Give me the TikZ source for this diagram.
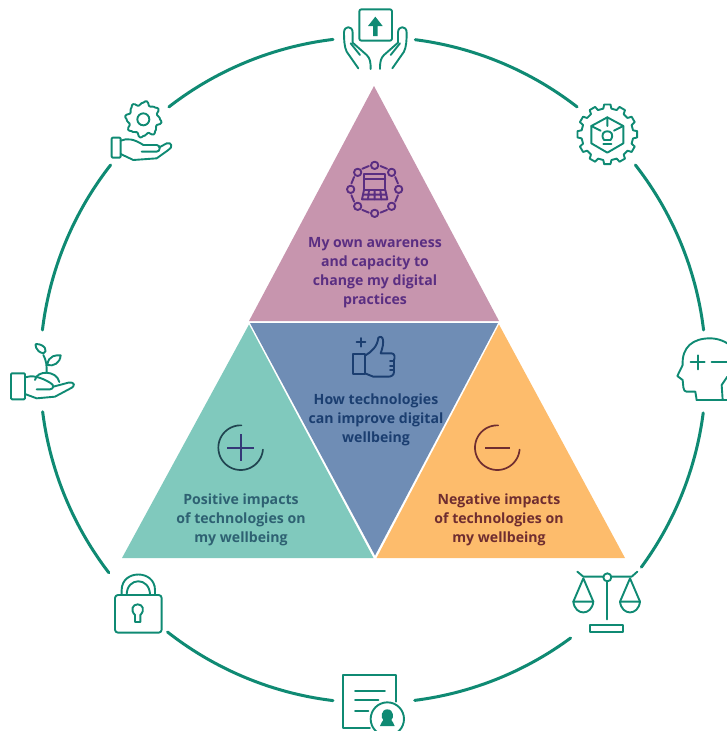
\documentclass[tikz,border=0pt]{standalone}
\usepackage{fontspec}
\setmainfont{Open Sans}
\definecolor{ringc}{HTML}{0F8A73}
\definecolor{pinkc}{HTML}{C795AE}
\definecolor{bluec}{HTML}{6F8DB5}
\definecolor{greenc}{HTML}{80C9BD}
\definecolor{orangec}{HTML}{FDBC6C}
\definecolor{purplet}{HTML}{5A2E82}
\definecolor{navyt}{HTML}{1B3E70}
\definecolor{greent}{HTML}{2E6172}
\definecolor{oranget}{HTML}{6F2D30}
\tikzset{
  ringline/.style={draw=ringc,line width=3pt,line cap=round},
  icon/.style={draw=ringc,line width=1.9pt,line cap=round,line join=round},
  label/.style={align=center,font=\bfseries\fontsize{14.1}{19}\selectfont,inner sep=0pt},
}
\newcommand{\ringarc}[2]{\draw[ringline] plot[domain=#1:#2,samples=40,smooth] ({373+333*cos(\x)},{370-333*sin(\x)});}
\begin{document}
\begin{tikzpicture}[x=1pt,y=-1pt]
\useasboundingbox (0,0) rectangle (726,731);
% triangles
\fill[pinkc]   (374,86) -- (499,321) -- (249,321) -- cycle;
\fill[bluec]   (250,323) -- (498,323) -- (375,555.5) -- cycle;
\fill[greenc]  (249,324.5) -- (373.5,558) -- (122,558) -- cycle;
\fill[orangec] (499,324.5) -- (625,558) -- (376.5,558) -- cycle;
% ring
\ringarc{82.7}{52.2}
\ringarc{38}{6.9}
\ringarc{-7.4}{-36.3}
\ringarc{-53.6}{-82.8}
\ringarc{-96.9}{-128.1}
\ringarc{-142.5}{-172.8}
\ringarc{173.1}{142}
\ringarc{127.8}{96.9}
% labels
\node[label,text=purplet] (own) at (375,272.5) {My own awareness\\and capacity to\\change my digital\\practices};
\node[label,text=navyt] (how) at (376,420) {How technologies\\can improve digital\\wellbeing};
\node[label,text=greent] (pos) at (241,520) {Positive impacts\\of technologies on\\my wellbeing};
\node[label,text=oranget] (neg) at (499,520) {Negative impacts\\of technologies on\\my wellbeing};
% top hands
\begin{scope}[shift={(330,0)},scale=1/3]
  \draw[icon,rounded corners=2pt] (88,28) rectangle (186,122);
  \fill[ringc] (136,50) -- (158,78) -- (143,78) -- (143,108) -- (129,108) -- (129,78) -- (114,78) -- cycle;
  \foreach \m/\o in {1/0,-1/272}{
  \begin{scope}[shift={(\o,0)},xscale=\m]
    \draw[icon] (85,205) -- (50,155) .. controls (43,140) and (42,120) .. (42,98) .. controls (42,76) and (68,76) .. (68,98) -- (68,128) -- (110,165) .. controls (120,175) and (122,185) .. (122,207);
    \draw[icon] (62,130) -- (90,165);
  \end{scope}}
\end{scope}
% gear with cube
\begin{scope}[shift={(330,0)},scale=1/3]
  \draw[icon] ({832+90*cos(-6)},{403+90*sin(-6)})
    \foreach \k in {0,...,11}{
      -- ({832+90*cos(30*\k-6)},{403+90*sin(30*\k-6)})
      -- ({832+90*cos(30*\k+6)},{403+90*sin(30*\k+6)})
      -- ({832+78*cos(30*\k+9)},{403+78*sin(30*\k+9)})
      -- ({832+78*cos(30*\k+21)},{403+78*sin(30*\k+21)})
    } -- cycle;
  \draw[icon] (832,352) -- (880,378) -- (880,430) -- (832,458) -- (784,430) -- (784,378) -- cycle;
  \draw[icon] (784,378) -- (812,392) (880,378) -- (852,392) (832,352) -- (832,378);
  \draw[icon] (822,420) .. controls (800,385) and (864,385) .. (842,420) -- cycle;
  \draw[icon] (820,432) -- (844,432);
\end{scope}
% head and scales
\begin{scope}[shift={(540,320)},scale=1/3]
  \draw[icon] (470,240) -- (466,215) -- (440,215) .. controls (428,215) and (430,195) .. (428,180) -- (412,168) -- (428,135) .. controls (425,80) and (460,55) .. (510,55) .. controls (535,55) and (559,65) .. (575,80);
  \draw[icon] (470,240) -- (562,240);
  \draw[icon] (562,170) -- (545,195) -- (548,240);
  \draw[icon] (452,127) -- (494,127) (473,106) -- (473,148);
  \draw[icon] (515,127) -- (562,127);
  \draw[icon] (112,755) -- (130,770) -- (190,770) (214,770) -- (275,770) -- (292,755);
  \draw[icon] (202,772) circle[radius=12];
  \draw[icon] (202,785) -- (202,898);
  \draw[icon] (150,916) rectangle (250,935);
  \foreach \cx in {130,270}{
    \draw[icon] (\cx-30,845) -- (\cx,775) -- (\cx+30,845);
    \draw[icon] (\cx-30,845) .. controls (\cx-25,888) and (\cx+25,888) .. (\cx+30,845) -- cycle;
  }
\end{scope}
% document and lock
\begin{scope}[shift={(90,560)},scale=1/3]
  \draw[icon] (840,503) -- (760,503) -- (760,345) -- (917,345) -- (917,425);
  \draw[icon] (795,392) -- (885,392) (795,420) -- (865,420) (795,452) -- (835,452);
  \draw[icon] (892,477) circle[radius=50];
  \fill[ringc] (892,448) .. controls (872,448) and (872,475) .. (880,480) .. controls (880,485) and (870,488) .. (870,498) -- (914,498) .. controls (914,488) and (904,485) .. (904,480) .. controls (912,475) and (912,448) .. (892,448) -- cycle;
  \draw[icon,rounded corners=3pt] (75,105) rectangle (215,218);
  \draw[icon] (95,105) -- (95,90) .. controls (95,28) and (195,28) .. (195,90) -- (195,105);
  \draw[icon] (110,105) .. controls (110,50) and (180,50) .. (180,105);
  \draw[icon] (135,186) -- (135,165) .. controls (120,150) and (128,133) .. (143,133) .. controls (158,133) and (166,150) .. (151,165) -- (151,186) -- cycle;
\end{scope}
% hands left
\begin{scope}[shift={(0,90)},scale=1/3]
  \draw[icon,rounded corners=1pt] (335,143) rectangle (362,203);
  \draw[icon] (362,152) .. controls (380,145) and (400,145) .. (430,165) -- (470,165) .. controls (482,165) and (482,185) .. (470,185) -- (425,185);
  \draw[icon] (478,172) -- (500,160) .. controls (515,155) and (520,172) .. (505,180) -- (470,205) -- (400,210) -- (362,192);
  \draw[icon] ({430+50*cos(0)},88) \foreach \k in {0,...,7}{
     .. controls ({430+58*cos(45*\k+8)},{88+58*sin(45*\k+8)}) and ({430+58*cos(45*\k+14)},{88+58*sin(45*\k+14)}) .. ({430+44*cos(45*\k+22.5)},{88+44*sin(45*\k+22.5)})
     .. controls ({430+40*cos(45*\k+28)},{88+40*sin(45*\k+28)}) and ({430+52*cos(45*\k+38)},{88+52*sin(45*\k+38)}) .. ({430+50*cos(45*\k+45)},{88+50*sin(45*\k+45)})
  } -- cycle;
  \draw[icon] (430,88) circle[radius=18];
  \draw[icon,rounded corners=1pt] (33,850) rectangle (75,928);
  \draw[icon] (75,862) .. controls (95,855) and (120,860) .. (150,878) .. controls (165,885) and (160,898) .. (150,898) -- (110,898);
  \draw[icon] (160,890) -- (205,878) .. controls (225,875) and (228,888) .. (210,896) -- (165,920) -- (110,925) -- (75,912);
  \draw[icon] (105,870) .. controls (110,840) and (170,840) .. (178,876);
  \draw[icon] (140,848) .. controls (140,825) and (140,815) .. (130,795);
  \draw[icon] (130,790) .. controls (105,785) and (105,760) .. (108,762) .. controls (135,762) and (145,785) .. (130,790) -- cycle;
  \draw[icon] (142,825) .. controls (145,795) and (170,795) .. (182,796) .. controls (180,820) and (160,830) .. (142,825) -- cycle;
\end{scope}
% pink icon
\begin{scope}[shift={(300,150)},scale=1/3]
  \foreach \k in {0,...,7}{
    \draw[icon,draw=purplet] ({224+72*cos(45*\k)},{118+72*sin(45*\k)}) circle[radius=11];
    \draw[icon,draw=purplet] ({224+72*cos(45*\k+14)},{118+72*sin(45*\k+14)}) -- ({224+72*cos(45*\k+31)},{118+72*sin(45*\k+31)});
  }
  \draw[icon,draw=purplet] (192,72) rectangle (256,120);
  \draw[icon,draw=purplet] (192,86) -- (256,86);
  \draw[icon,draw=purplet] (192,120) -- (186,148) -- (262,148) -- (256,120);
  \draw[icon,draw=purplet] (189,134) -- (259,134) (207,120) -- (204,148) (224,120) -- (224,148) (241,120) -- (244,148);
\end{scope}
% thumb, plus and minus
\begin{scope}[shift={(170,325)},scale=1/3]
  \draw[icon,draw=navyt] (548,88) rectangle (585,148);
  \draw[icon,draw=navyt] (585,92) .. controls (605,80) and (622,65) .. (625,38) .. controls (640,28) and (645,50) .. (632,85) -- (665,85) .. controls (675,85) and (675,100) .. (672,105) -- (672,140) .. controls (672,150) and (665,155) .. (655,155) -- (610,155) -- (585,145);
  \draw[icon,draw=navyt] (660,108) -- (672,108) (660,122) -- (672,122) (660,136) -- (672,136);
  \draw[icon,draw=navyt] (560,52) -- (586,52) (573,39) -- (573,65);
  \draw[draw=greent!70!black,line width=1.7pt,line cap=round] plot[domain=88:355,samples=50,smooth] ({212+67*cos(\x)},{368-67*sin(\x)});
  \draw[draw=navyt!60!purplet,line width=2.2pt] (172,368) -- (252,368) (212,328) -- (212,408);
  \draw[draw=oranget,line width=1.7pt,line cap=round] plot[domain=88:355,samples=50,smooth] ({982+67*cos(\x)},{368-67*sin(\x)});
  \draw[draw=oranget,line width=2.2pt] (945,368) -- (1020,368);
\end{scope}
\end{tikzpicture}
\end{document}
